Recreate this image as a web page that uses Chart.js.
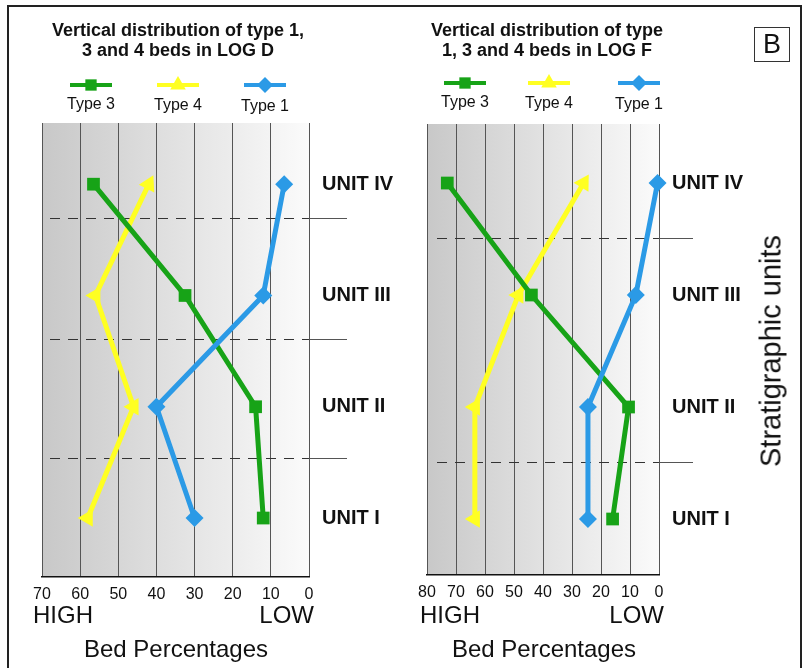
<!DOCTYPE html>
<html>
<head>
<meta charset="UTF-8" />
<title>Vertical distribution of type 1, 3 and 4 beds</title>
<script src="https://cdn.jsdelivr.net/npm/chart.js"></script>
<style>
  html, body {
    margin: 0;
    padding: 0;
    background: #fff;
    overflow: hidden;
  }
  body {
    width: 809px;
    height: 668px;
    position: relative;
    font-family: 'Liberation Sans', Arial, sans-serif;
    color: #111;
  }
  .frame {
    position: absolute;
    left: 7px;
    top: 5px;
    width: 791px;
    height: 700px;
    border: 2px solid #222;
  }
  canvas { position: absolute; top: 0; }
  .title {
    position: absolute;
    top: 20px;
    width: 340px;
    font-weight: bold;
    font-size: 18px;
    line-height: 20px;
    text-align: center;
    transform: translateX(-50%);
  }
  .big { position: absolute; font-size: 24px; line-height: 24px; white-space: nowrap; }
  .center { transform: translateX(-50%); }
  .panelB {
    position: absolute;
    left: 754px;
    top: 27px;
    width: 34px;
    height: 33px;
    border: 1px solid #333;
    font-size: 27px;
    line-height: 33px;
    text-align: center;
  }
  .strat {
    position: absolute;
    left: 771px;
    top: 351px;
    font-size: 29px;
    white-space: nowrap;
    transform: translate(-50%, -50%) rotate(-90deg);
  }
</style>
</head>
<body>
  <div class="frame"></div>

  <canvas id="logD" width="400" height="668" style="left:0"></canvas>
  <canvas id="logF" width="409" height="668" style="left:400px"></canvas>

  <div class="title" style="left:178px">Vertical distribution of type 1,<br>3 and 4 beds in LOG D</div>
  <div class="title" style="left:547px">Vertical distribution of type<br>1, 3 and 4 beds in LOG F</div>
  <div class="panelB">B</div>

  <div class="big" style="left:33px; top:603px">HIGH</div>
  <div class="big" style="right:495px; top:603px">LOW</div>
  <div class="big center" style="left:176px; top:637px">Bed Percentages</div>

  <div class="big" style="left:420px; top:603px">HIGH</div>
  <div class="big" style="right:145px; top:603px">LOW</div>
  <div class="big center" style="left:544px; top:637px">Bed Percentages</div>

  <div class="strat">Stratigraphic units</div>

<script>
// units, bottom to top
const units = ['UNIT I', 'UNIT II', 'UNIT III', 'UNIT IV'];
const legendLabels = ['Type 3', 'Type 4', 'Type 1'];

// LOG D, bed percentages per unit (I..IV)
const logDType3 = [12, 14, 32.5, 56.5];
const logDType4 = [58, 46, 56, 42];
const logDType1 = [30, 40, 12, 6.5];
const logDMax = 70;
const logDBounds = [1.535, 2.61, 3.70];

// LOG F
const logFType3 = [16, 10.5, 44, 73];
const logFType4 = [63.5, 63.5, 48.5, 26];
const logFType1 = [24.5, 24.5, 8, 0.5];
const logFMax = 80;
const logFBounds = [1.51, 3.51];

const FONT = "'Liberation Sans', Arial, sans-serif";
const GREEN = '#17a317';
const YELLOW = '#ffff22';
const BLUE = '#2b9ae6';

const panelPlugin = {
  id: 'panel',
  beforeDraw(chart) {
    const { ctx, chartArea: a } = chart;
    const g = ctx.createLinearGradient(a.left, 0, a.right, 0);
    g.addColorStop(0, '#c8c8c8');
    g.addColorStop(1, '#fbfbfb');
    ctx.save();
    ctx.fillStyle = g;
    ctx.fillRect(a.left, a.top, a.right - a.left, a.bottom - a.top);
    ctx.restore();
  },
  beforeDatasetsDraw(chart, args, opts) {
    const { ctx, chartArea: a, scales: { y } } = chart;
    ctx.save();
    ctx.lineWidth = 1;
    opts.bounds.forEach(b => {
      const py = Math.round(y.getPixelForValue(b)) + 0.5;
      ctx.strokeStyle = '#333';
      ctx.setLineDash([10, 8]);
      ctx.beginPath();
      ctx.moveTo(a.left + opts.dashStart, py);
      ctx.lineTo(a.right, py);
      ctx.stroke();
      ctx.setLineDash([]);
      ctx.strokeStyle = '#555';
      ctx.beginPath();
      ctx.moveTo(a.right, py);
      ctx.lineTo(a.right + opts.tail, py);
      ctx.stroke();
    });
    ctx.restore();
  },
  afterDraw(chart, args, opts) {
    const { ctx, chartArea: a, scales: { y } } = chart;
    ctx.save();
    // unit labels
    ctx.fillStyle = '#111';
    ctx.font = 'bold 20px ' + FONT;
    ctx.textAlign = 'left';
    ctx.textBaseline = 'middle';
    units.forEach((u, i) => {
      ctx.fillText(u, a.right + 13, y.getPixelForValue(i + 1));
    });
    // legend
    chart.data.datasets.forEach((ds, i) => {
      const cx = opts.legendX[i];
      const cy = opts.legendY;
      ctx.strokeStyle = ds.borderColor;
      ctx.lineWidth = 4;
      ctx.beginPath();
      ctx.moveTo(cx - 21, cy);
      ctx.lineTo(cx + 21, cy);
      ctx.stroke();
      ctx.fillStyle = ds.backgroundColor;
      Chart.helpers.drawPoint(ctx, {
        pointStyle: ds.pointStyle, radius: ds.pointRadius - 1, rotation: 0, borderWidth: 0
      }, cx, cy);
      ctx.fillStyle = '#111';
      ctx.font = '16px ' + FONT;
      ctx.textAlign = 'center';
      ctx.fillText(legendLabels[i], cx, cy + 20 + i);
    });
    ctx.restore();
  }
};

function series(label, values, color, style, radius, rotation, order) {
  return {
    label: label,
    data: values.map((v, i) => ({ x: v, y: i + 1 })),
    borderColor: color,
    backgroundColor: color,
    borderWidth: 5,
    showLine: true,
    clip: false,
    pointStyle: style,
    pointRadius: radius,
    pointRotation: rotation,
    pointBorderWidth: 0,
    order: order
  };
}

function makeChart(id, t3, t4, t1, maxX, yMin, yMax, pad, panelOpts) {
  return new Chart(document.getElementById(id), {
    type: 'scatter',
    data: {
      datasets: [
        series('Type 3', t3, GREEN, 'rect', 9, 0, 1),
        series('Type 4', t4, YELLOW, 'triangle', 10, panelOpts.triRot, 2),
        series('Type 1', t1, BLUE, 'rectRot', 9, 0, 0)
      ]
    },
    options: {
      responsive: false,
      animation: false,
      events: [],
      layout: { padding: pad },
      plugins: {
        legend: { display: false },
        tooltip: { enabled: false },
        panel: panelOpts
      },
      scales: {
        x: {
          type: 'linear',
          reverse: true,
          min: 0,
          max: maxX,
          afterFit(s) { s.height = 24; },
          ticks: {
            stepSize: 10,
            padding: 8,
            maxRotation: 0,
            autoSkip: false,
            color: '#111',
            font: { family: FONT, size: 16 }
          },
          grid: { color: '#555', lineWidth: 1, drawTicks: false },
          border: { color: '#111', width: 1.5 }
        },
        y: { type: 'linear', min: yMin, max: yMax, display: false }
      }
    },
    plugins: [panelPlugin]
  });
}

makeChart('logD', logDType3, logDType4, logDType1, logDMax, 0.47, 4.55,
  { left: 42, right: 91, top: 123, bottom: 67 },
  { bounds: logDBounds, dashStart: 8, tail: 38, legendX: [91, 178, 265], legendY: 85, triRot: [-90, -90, -90, 27] });

makeChart('logF', logFType3, logFType4, logFType1, logFMax, 0.5, 4.527,
  { left: 27, right: 150, top: 124, bottom: 69 },
  { bounds: logFBounds, dashStart: 10, tail: 34, legendX: [65, 149, 239], legendY: 83, triRot: [-90, -90, -90, 31] });
</script>
</body>
</html>
